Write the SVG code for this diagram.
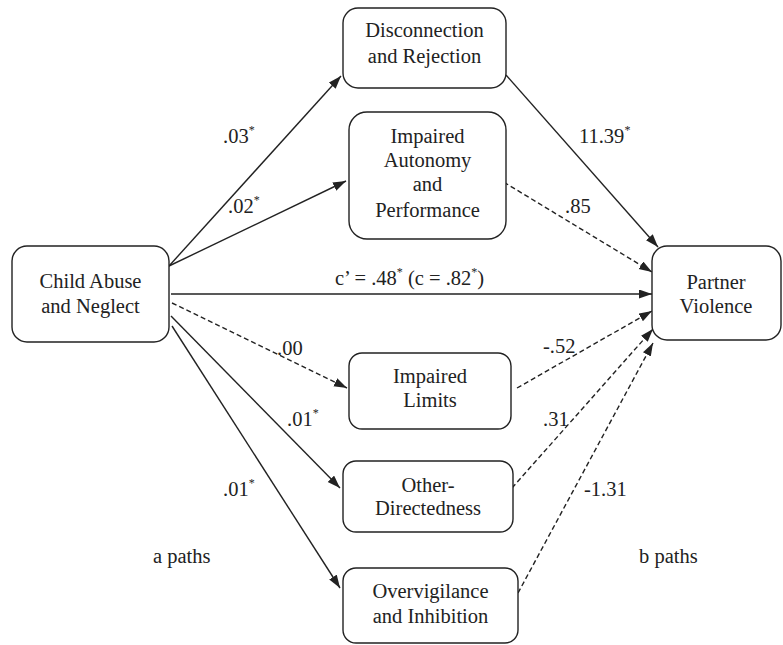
<svg xmlns="http://www.w3.org/2000/svg" width="783" height="645" viewBox="0 0 783 645">
<style>
.box{fill:#fff;stroke:#222;stroke-width:1.4}
.t{font-size:20.5px;fill:#222}
.m{text-anchor:middle}
.s{font-size:12px}
.ln{stroke:#222;stroke-width:1.4;fill:none;marker-end:url(#ah)}
.d{stroke-dasharray:5,3}
</style>
<defs>
<marker id="ah" markerUnits="userSpaceOnUse" markerWidth="14" markerHeight="10" refX="13" refY="4.5" orient="auto">
<path d="M0,0 L13,4.5 L0,9 z" fill="#222"/>
</marker>
</defs>
<rect width="783" height="645" fill="#fff"/>
<g id="connectors">
<line class="ln" x1="169" y1="266" x2="341" y2="76"/>
<line class="ln" x1="169" y1="266" x2="346" y2="181"/>
<line class="ln" x1="171" y1="294" x2="652" y2="294"/>
<line class="ln d" x1="172" y1="303" x2="347" y2="388"/>
<line class="ln" x1="171" y1="316" x2="340" y2="488"/>
<line class="ln" x1="172" y1="326" x2="340" y2="588"/>
<line class="ln" x1="506" y1="75" x2="658" y2="247"/>
<line class="ln d" x1="497" y1="178" x2="652" y2="272"/>
<line class="ln d" x1="517" y1="388" x2="652" y2="311"/>
<line class="ln d" x1="512" y1="488" x2="653" y2="329"/>
<line class="ln d" x1="518" y1="593" x2="653" y2="343"/>
</g>
<g font-family="'Liberation Serif', 'DejaVu Serif', serif">
<g id="child">
<rect class="box" x="12" y="246" width="157" height="96" rx="15"/>
<text class="t m" x="90.5" y="288">Child Abuse</text>
<text class="t m" x="90.5" y="313">and Neglect</text>
</g>
<g id="disconnection">
<rect class="box" x="343" y="8" width="163" height="80" rx="15"/>
<text class="t m" x="424.5" y="37">Disconnection</text>
<text class="t m" x="424.5" y="63">and Rejection</text>
</g>
<g id="autonomy">
<rect class="box" x="349" y="112" width="157" height="127" rx="18"/>
<text class="t m" x="427.5" y="143">Impaired</text>
<text class="t m" x="427.5" y="167">Autonomy</text>
<text class="t m" x="427.5" y="191">and</text>
<text class="t m" x="427.5" y="217">Performance</text>
</g>
<g id="partner">
<rect class="box" x="652" y="246" width="129" height="94" rx="15"/>
<text class="t m" x="716" y="289">Partner</text>
<text class="t m" x="716" y="313">Violence</text>
</g>
<g id="limits">
<rect class="box" x="349" y="353" width="162" height="76" rx="13"/>
<text class="t m" x="430" y="383">Impaired</text>
<text class="t m" x="430" y="407">Limits</text>
</g>
<g id="other">
<rect class="box" x="343" y="461" width="170" height="71" rx="13"/>
<text class="t m" x="428" y="492">Other-</text>
<text class="t m" x="428" y="515">Directedness</text>
</g>
<g id="overvigilance">
<rect class="box" x="343" y="568" width="175" height="75" rx="13"/>
<text class="t m" x="430.5" y="598">Overvigilance</text>
<text class="t m" x="430.5" y="623">and Inhibition</text>
</g>
<g id="labels">
<text class="t" x="223" y="143">.03<tspan class="s" dy="-9">*</tspan></text>
<text class="t" x="228" y="213">.02<tspan class="s" dy="-9">*</tspan></text>
<text class="t" x="335" y="285">c’ = .48<tspan class="s" dy="-9">*</tspan><tspan dy="9"> (c = .82</tspan><tspan class="s" dy="-9">*</tspan><tspan dy="9">)</tspan></text>
<text class="t" x="277" y="355">.00</text>
<text class="t" x="287" y="426">.01<tspan class="s" dy="-9">*</tspan></text>
<text class="t" x="223" y="496">.01<tspan class="s" dy="-9">*</tspan></text>
<text class="t" x="153" y="563">a paths</text>
<text class="t" x="579" y="143">11.39<tspan class="s" dy="-9">*</tspan></text>
<text class="t" x="565" y="213">.85</text>
<text class="t" x="543" y="353">-.52</text>
<text class="t" x="543" y="426">.31</text>
<text class="t" x="584" y="496">-1.31</text>
<text class="t" x="639" y="563">b paths</text>
</g>
</g>
</svg>
